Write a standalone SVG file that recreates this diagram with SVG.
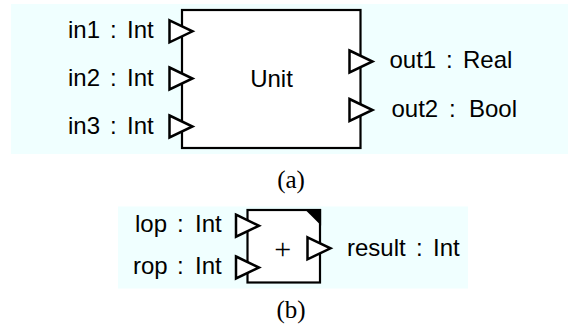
<svg xmlns="http://www.w3.org/2000/svg" width="570" height="326" viewBox="0 0 570 326">
<style>
.bg{fill:#F0FFFF;stroke:none}
.box{fill:#fff;stroke:#000;stroke-width:2.2}
.port{fill:#fff;stroke:#000;stroke-width:2.5;stroke-linejoin:miter;stroke-miterlimit:10}
.lbl{font-family:"Liberation Sans",Arial,sans-serif;font-size:24px;fill:#000}
.cap{font-family:"Liberation Serif","Times New Roman",serif;font-size:25px;fill:#000;text-anchor:middle}
</style>
<defs>
<polygon id="tri" points="0,-11 23,0 0,11"/>
</defs>
<rect class="bg" x="11" y="4" width="557" height="150"/>
<rect class="bg" x="118" y="206.5" width="350" height="82"/>
<g id="connectors"></g>
<g id="unit">
<rect class="box" x="182" y="10" width="178.5" height="138"/>
<text class="lbl" x="271.5" y="87" text-anchor="middle">Unit</text>
</g>
<g id="in1">
<use href="#tri" class="port" x="169.5" y="31.3"/>
<text class="lbl" y="37.5"><tspan x="68">in1</tspan><tspan x="110">:</tspan><tspan x="127">Int</tspan></text>
</g>
<g id="in2">
<use href="#tri" class="port" x="169.5" y="78.5"/>
<text class="lbl" y="85.5"><tspan x="68">in2</tspan><tspan x="110">:</tspan><tspan x="127">Int</tspan></text>
</g>
<g id="in3">
<use href="#tri" class="port" x="169.5" y="126.5"/>
<text class="lbl" y="133.5"><tspan x="68">in3</tspan><tspan x="110">:</tspan><tspan x="127">Int</tspan></text>
</g>
<g id="out1">
<use href="#tri" class="port" x="349.5" y="61.5"/>
<text class="lbl" y="67.5"><tspan x="389.5">out1</tspan><tspan x="446">:</tspan><tspan x="463">Real</tspan></text>
</g>
<g id="out2">
<use href="#tri" class="port" x="349.5" y="110"/>
<text class="lbl" y="116.5"><tspan x="391.5">out2</tspan><tspan x="449">:</tspan><tspan x="469">Bool</tspan></text>
</g>
<text class="cap" x="291" y="188">(a)</text>
<g id="plus">
<rect class="box" x="247.5" y="210" width="72.5" height="72.5"/>
<polygon points="304.5,209 321.1,209 321.1,225.5" fill="#000"/>
<text x="282.7" y="259" text-anchor="middle" font-family="Liberation Serif,serif" font-size="30">+</text>
</g>
<g id="lop">
<use href="#tri" class="port" x="236" y="225.7"/>
<text class="lbl" y="232"><tspan x="135">lop</tspan><tspan x="177">:</tspan><tspan x="195">Int</tspan></text>
</g>
<g id="rop">
<use href="#tri" class="port" x="236" y="267.5"/>
<text class="lbl" y="274"><tspan x="133">rop</tspan><tspan x="177">:</tspan><tspan x="195">Int</tspan></text>
</g>
<g id="result">
<use href="#tri" class="port" x="307.5" y="248.3"/>
<text class="lbl" y="256"><tspan x="347">result</tspan><tspan x="416">:</tspan><tspan x="433">Int</tspan></text>
</g>
<text class="cap" x="291" y="318">(b)</text>
</svg>
